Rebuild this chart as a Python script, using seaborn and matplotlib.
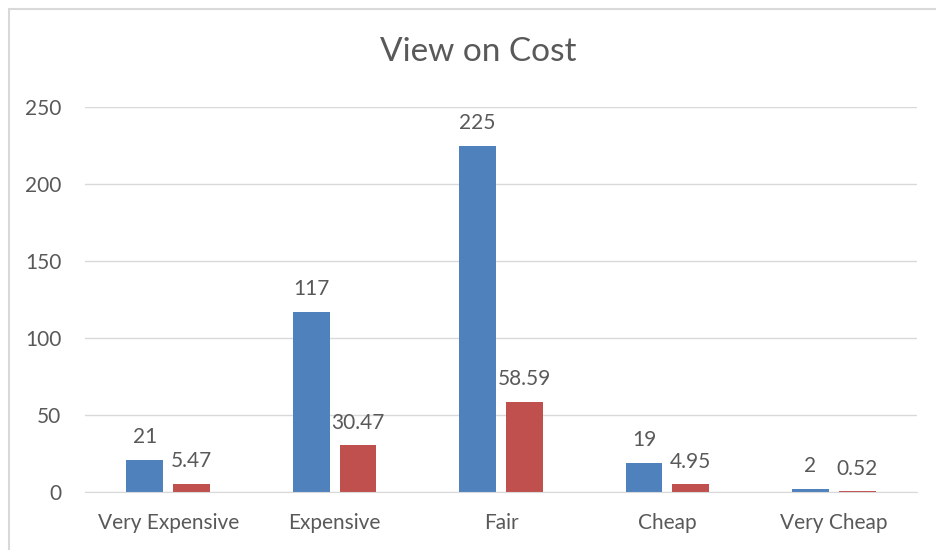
import pandas as pd
import seaborn as sns
import matplotlib.pyplot as plt
from matplotlib.patches import Rectangle

categories = ["Very Expensive", "Expensive", "Fair", "Cheap", "Very Cheap"]
counts = [21, 117, 225, 19, 2]
percents = [5.47, 30.47, 58.59, 4.95, 0.52]
count_labels = ["21", "117", "225", "19", "2"]
percent_labels = ["5.47", "30.47", "58.59", "4.95", "0.52"]

df = pd.DataFrame({
    "Category": categories * 2,
    "Value": counts + percents,
    "Series": ["Count"] * len(categories) + ["Percent"] * len(categories),
})

text_color = "#595959"
plt.rcParams["font.family"] = ["Lato", "DejaVu Sans"]

fig = plt.figure(figsize=(9.36, 5.5), dpi=100)
ax = fig.add_axes([85 / 936, 1 - 492 / 550, (917 - 85) / 936, (492 - 107) / 550])

sns.barplot(data=df, x="Category", y="Value", hue="Series", order=categories,
            palette=["#4F81BD", "#C0504D"], saturation=1, width=0.563, gap=0.213,
            legend=False, ax=ax)

for cont, labs in zip(ax.containers, [count_labels, percent_labels]):
    ax.bar_label(cont, labels=labs, padding=9, fontsize=15, color=text_color)

ax.set_ylim(0, 250)
ax.set_yticks(range(0, 251, 50))
ax.set_xlim(-0.5, len(categories) - 0.5)
ax.grid(axis="y", color="#D9D9D9", linewidth=1)
ax.set_axisbelow(True)
for s in ["top", "right", "left"]:
    ax.spines[s].set_visible(False)
ax.spines["bottom"].set_color("#D9D9D9")
ax.tick_params(length=0, labelsize=15, labelcolor=text_color)
ax.tick_params(axis="y", pad=17)
ax.tick_params(axis="x", pad=15)
ax.set_xlabel("")
ax.set_ylabel("")

fig.text(478 / 936, 1 - 52 / 550, "View on Cost", ha="center", va="center",
         fontsize=24, color=text_color)

# chart border (left and top visible in the crop)
fig.patches.append(Rectangle((9 / 936, -0.1), 1.2, 1 - 9 / 550 + 0.1,
                             transform=fig.transFigure, fill=False,
                             edgecolor="#D9D9D9", linewidth=1.5))

plt.savefig("out.png", dpi=100)
plt.close()
